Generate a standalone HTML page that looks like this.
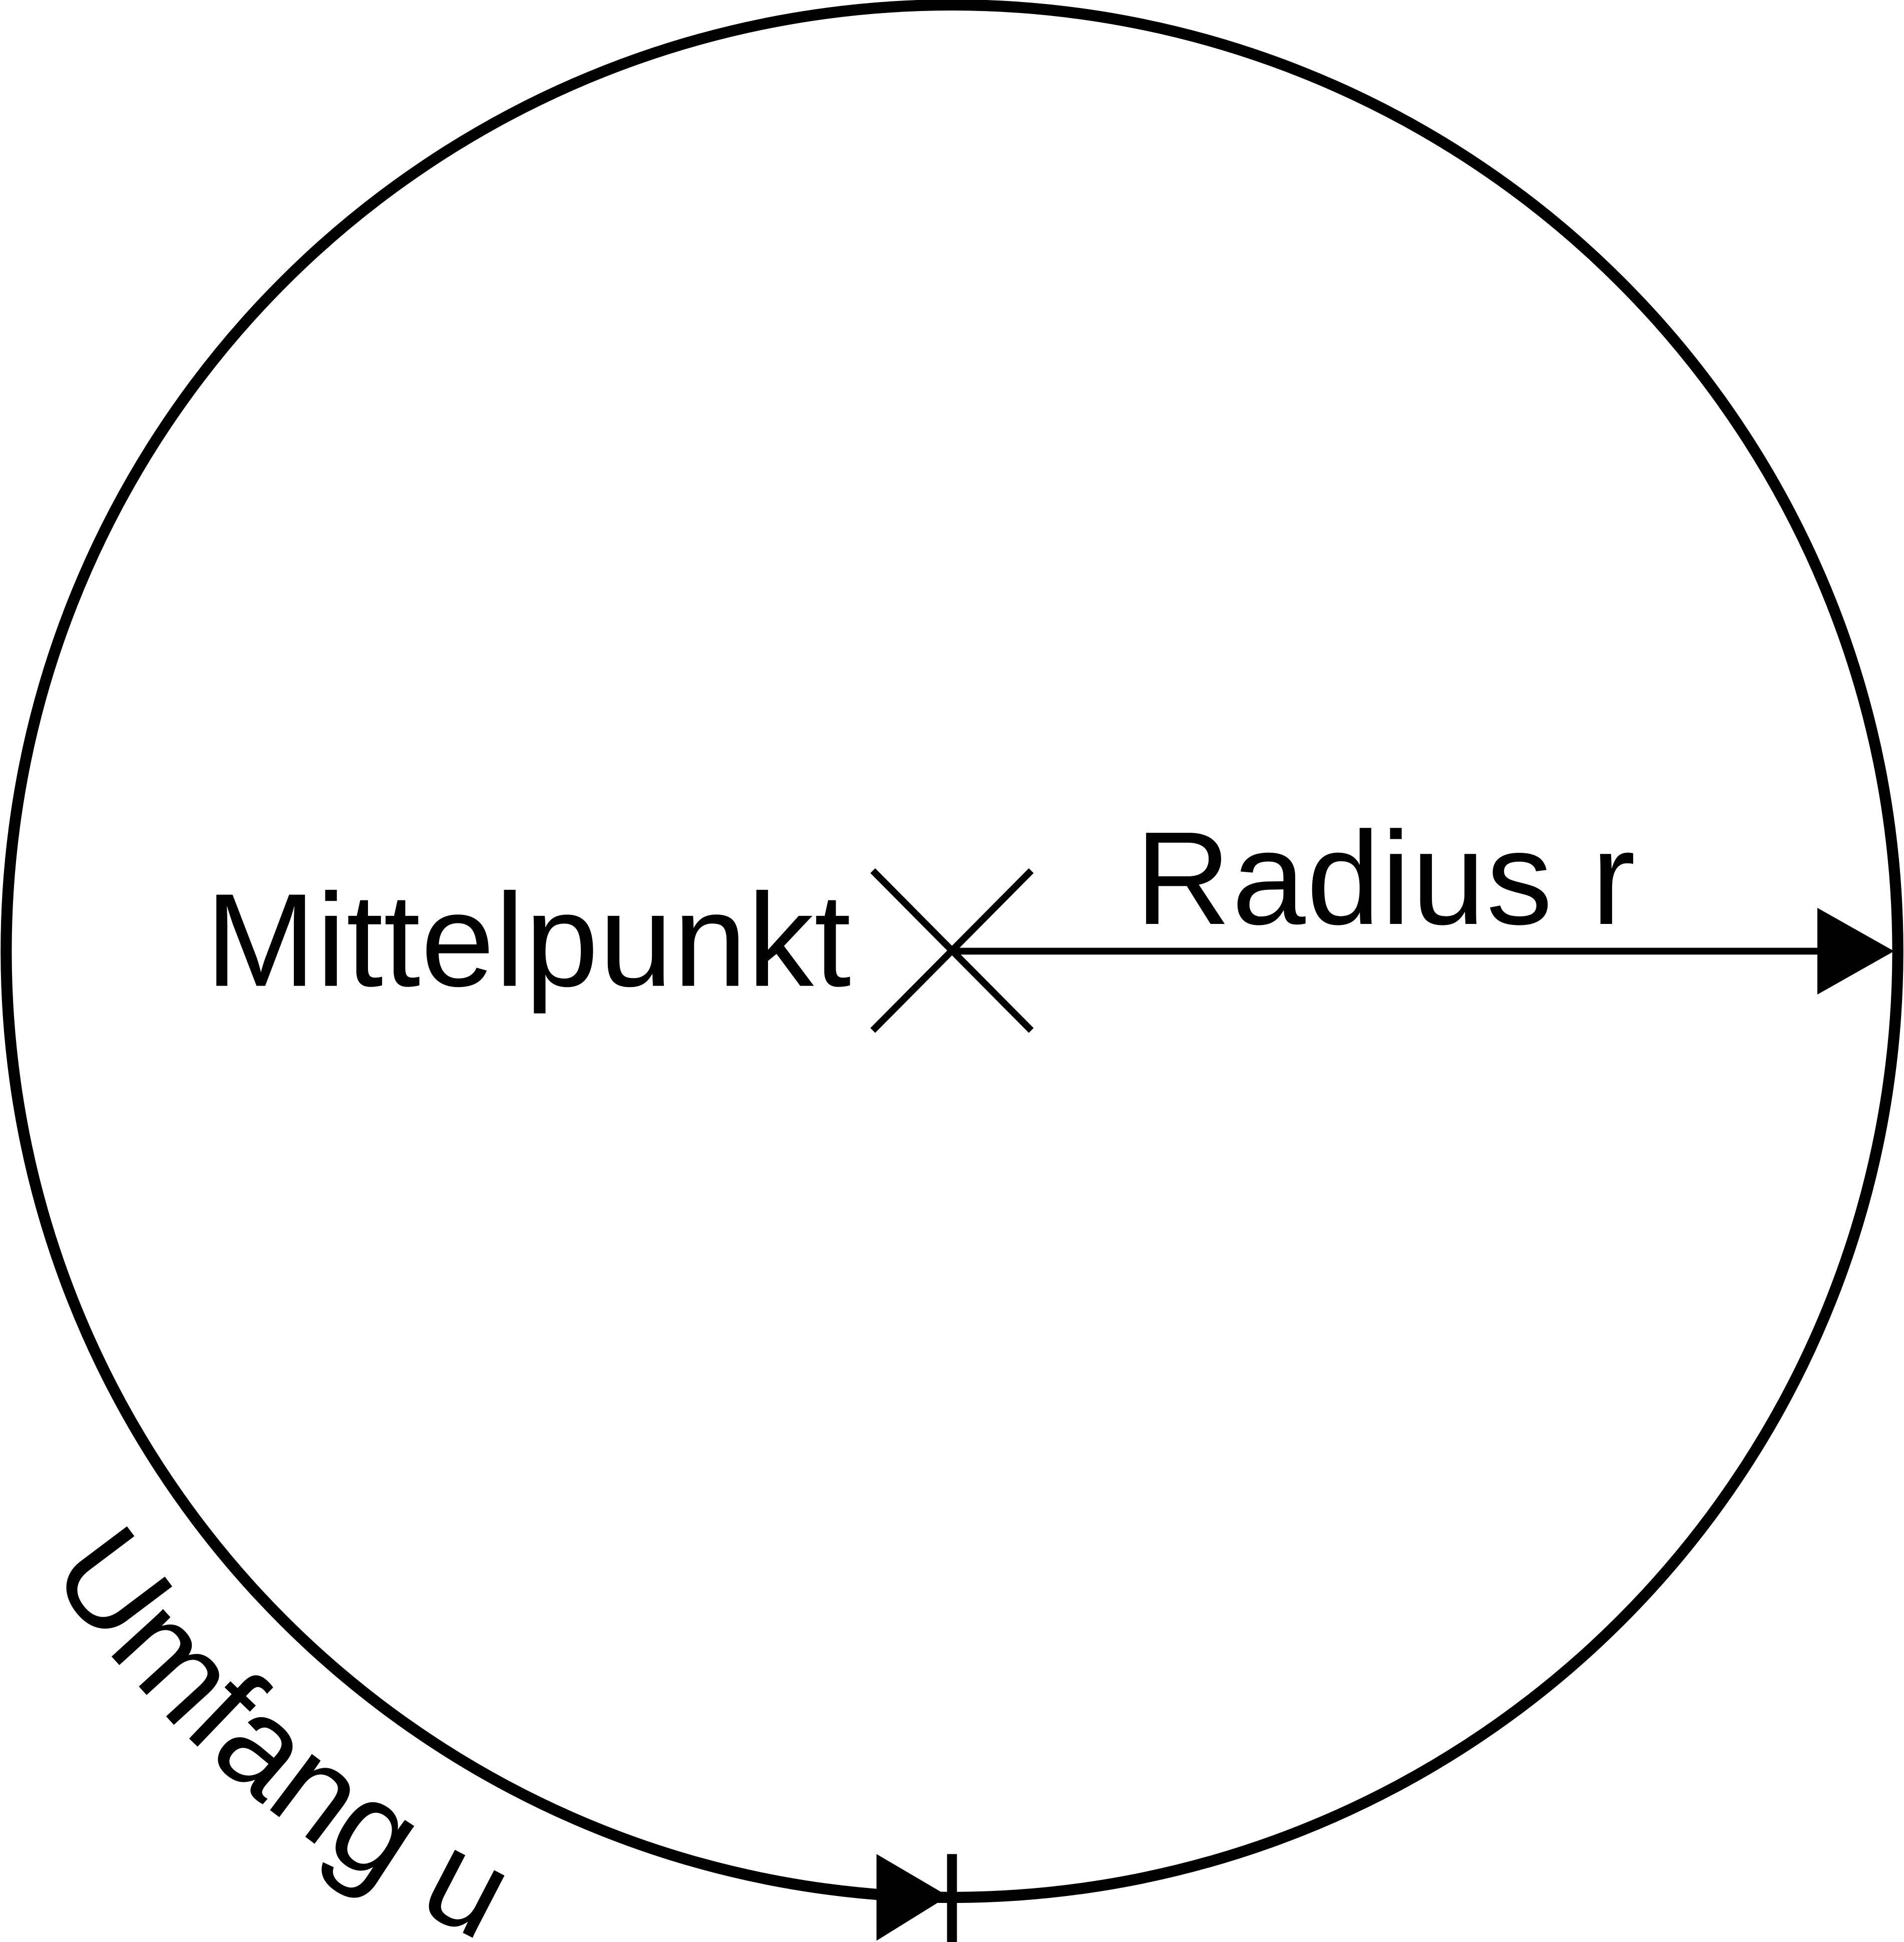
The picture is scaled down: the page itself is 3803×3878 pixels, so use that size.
<!DOCTYPE html>
<html><head><meta charset="utf-8"><style>
html,body{margin:0;padding:0;background:#fff}
svg{display:block}
text{font-family:"Liberation Sans",Arial,sans-serif;fill:#000}
</style></head><body>
<svg width="3803" height="3878" viewBox="0 0 1538 1568" preserveAspectRatio="none" xmlns="http://www.w3.org/2000/svg">
<defs>
<path id="arc" d="M 35 1263 A 885 885 0 0 0 923 1640"/>
</defs>
<circle cx="769" cy="768" r="764" fill="none" stroke="#000" stroke-width="9"/>
<line x1="705" y1="703" x2="833" y2="832" stroke="#000" stroke-width="5.5"/>
<line x1="705" y1="832" x2="833" y2="703" stroke="#000" stroke-width="5.5"/>
<line x1="769" y1="768" x2="1475" y2="768" stroke="#000" stroke-width="5.5"/>
<polygon points="1468,733 1530,768 1468,803" fill="#000"/>
<polygon points="708,1497 766,1531 708,1567" fill="#000"/>
<line x1="769" y1="1497" x2="769" y2="1568" stroke="#000" stroke-width="8"/>
<text x="166" y="796" font-size="107" letter-spacing="0.4">Mittelpunkt</text>
<text x="917" y="746" font-size="107" letter-spacing="0.8">Radius r</text>
<text font-size="107"><textPath href="#arc" startOffset="8">Umfang u</textPath></text>
</svg>
</body></html>
